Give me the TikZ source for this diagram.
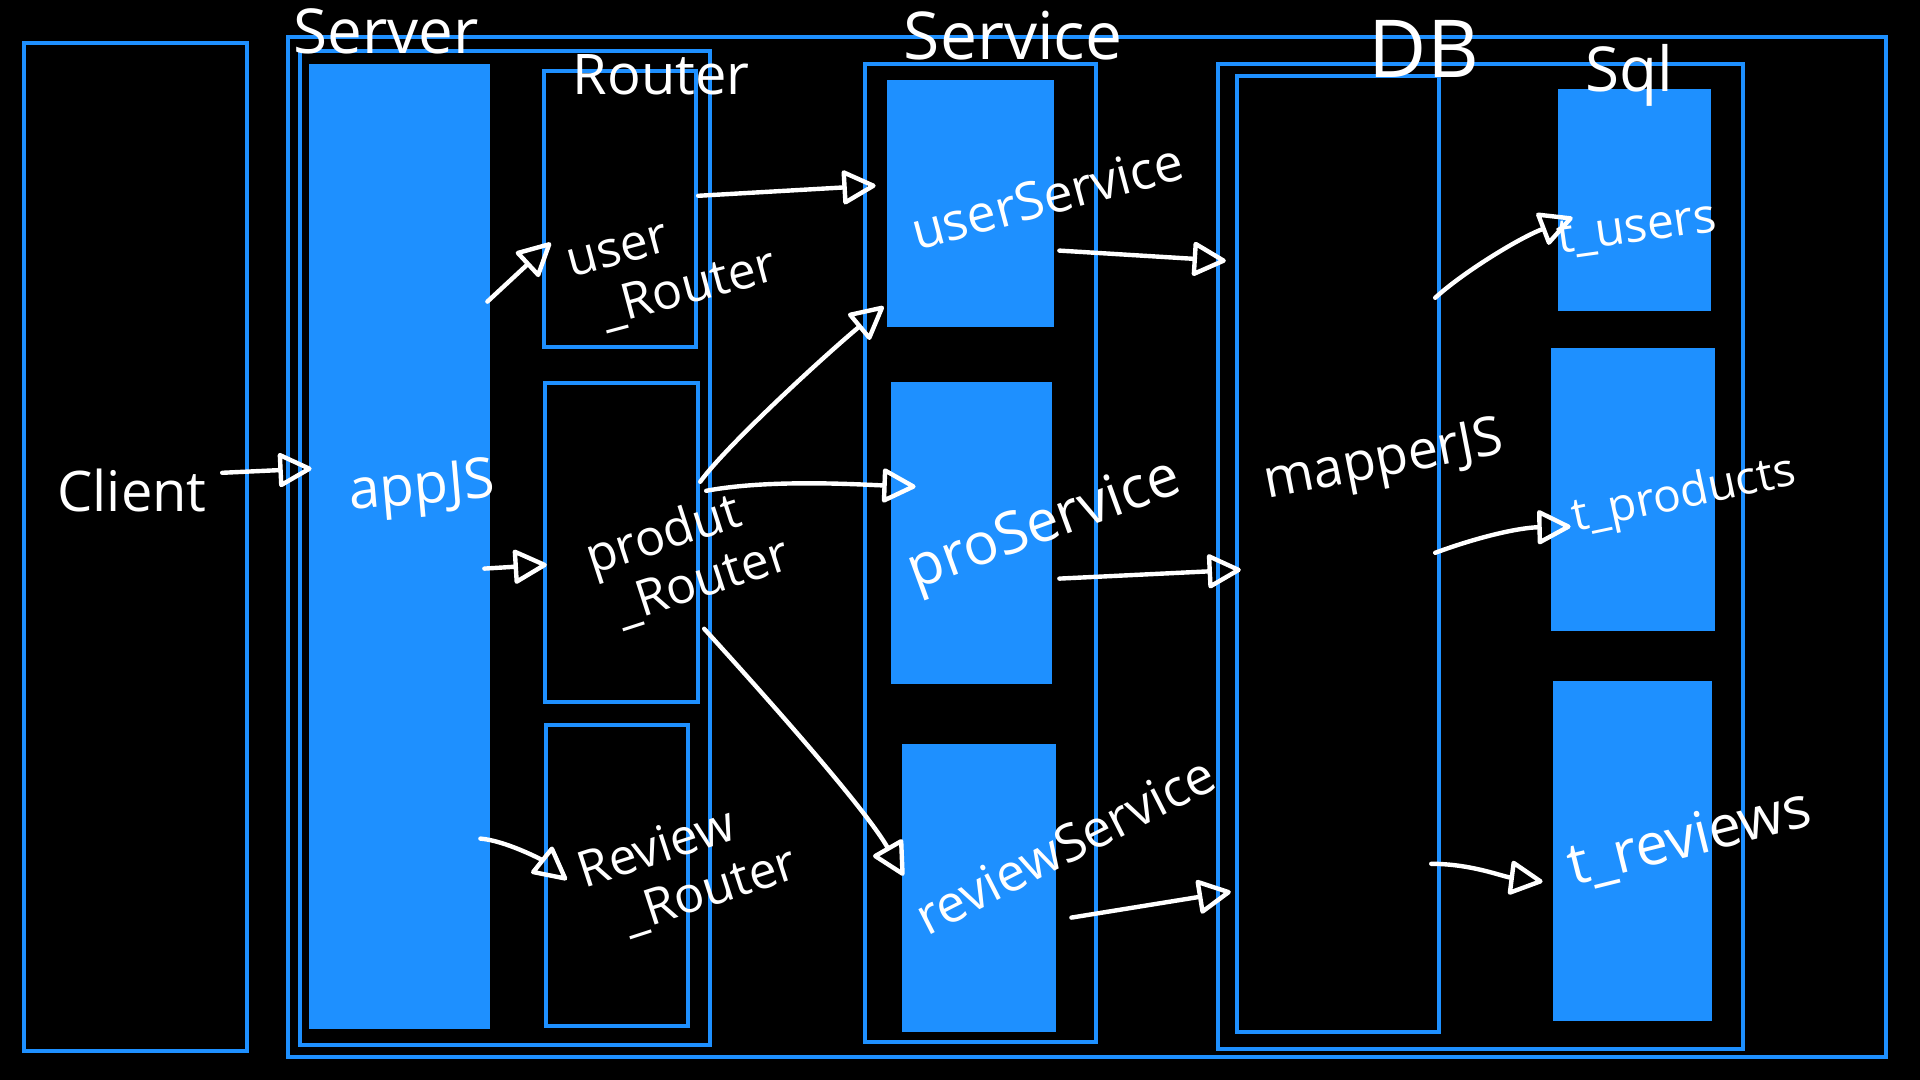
\documentclass[tikz,border=0pt]{standalone}
\usepackage{fontspec}
\setmainfont{Open Sans}
\usetikzlibrary{arrows.meta,fit,calc}
\definecolor{dblue}{HTML}{1E90FF}
\begin{document}
\begin{tikzpicture}[x=0.5pt,y=-0.5pt,
  frame/.style={draw=dblue, line width=2.2pt, inner sep=0pt},
  solidbox/.style={fill=dblue, inner sep=0pt},
  lab/.style={text=white, inner sep=0pt, align=left},
  conn/.style={draw=white, line width=2.2pt, line cap=round, line join=round,
    -{Triangle[open, length=18pt, width=18pt, line width=2.2pt, round]}}
]
\fill[black] (0,0) rectangle (1920,1080);
\useasboundingbox (0,0) rectangle (1920,1080);

% frames
\node[frame, fit={(24,43)(247,1051)}] (client) {};
\node[frame, fit={(288,37)(1886,1057)}] (outer) {};
\node[frame, fit={(300,51)(710,1045)}] (server) {};
\node[solidbox, fit={(309,64)(490,1029)}] (app) {};
\node[frame, fit={(544,71)(696,347)}] (userR) {};
\node[frame, fit={(545,383)(698,702)}] (prodR) {};
\node[frame, fit={(546,725)(688,1026)}] (revR) {};
\node[frame, fit={(865,64)(1096,1042)}] (service) {};
\node[solidbox, fit={(887,80)(1054,327)}] (userS) {};
\node[solidbox, fit={(891,382)(1052,684)}] (proS) {};
\node[solidbox, fit={(902,744)(1056,1032)}] (revS) {};
\node[frame, fit={(1218,64)(1743,1049)}] (db) {};
\node[frame, fit={(1237,76)(1439,1032)}] (mapper) {};
\node[solidbox, fit={(1558,89)(1711,311)}] (tusers) {};
\node[solidbox, fit={(1551,348)(1715,631)}] (tprod) {};
\node[solidbox, fit={(1553,681)(1712,1021)}] (trev) {};

% titles
\node[lab, font=\fontsize{31}{34}\selectfont] (tServer) at (386,31) {Server};
\node[lab, font=\fontsize{28}{31}\selectfont] (tRouter) at (661,75) {Router};
\node[lab, font=\fontsize{33}{36}\selectfont] (tService) at (1013,36) {Service};
\node[lab, font=\fontsize{40}{44}\selectfont] (tDB) at (1424,49) {DB};
\node[lab, font=\fontsize{31}{34}\selectfont] (tSql) at (1629,75) {Sql};

% labels
\node[lab, font=\fontsize{28}{31}\selectfont] (lClient) at (132,490) {Client};
\node[lab, font=\fontsize{28}{31}\selectfont, rotate=5] (lApp) at (422,490) {appJS};
\node[lab, font=\fontsize{25}{30}\selectfont, rotate=15] (lUserR) at (673,269) {user\\[-2pt]\hspace*{10pt}\_Router};
\node[lab, font=\fontsize{25}{30}\selectfont, rotate=18] (lProdR) at (688,557) {produt\\[-2pt]\hspace*{6pt}\_Router};
\node[lab, font=\fontsize{25}{30}\selectfont, rotate=18] (lRevR) at (688,869) {Review\\[-2pt]\hspace*{14pt}\_Router};
\node[lab, font=\fontsize{26}{29}\selectfont, rotate=15] (lUserS) at (1047,196) {userService};
\node[lab, font=\fontsize{29}{32}\selectfont, rotate=20] (lProS) at (1045,527) {proService};
\node[lab, font=\fontsize{26}{29}\selectfont, rotate=27] (lRevS) at (1065,845) {reviewService};
\node[lab, font=\fontsize{27}{30}\selectfont, rotate=11] (lMapper) at (1384,463) {mapperJS};
\node[lab, font=\fontsize{24}{27}\selectfont, rotate=8] (lTusers) at (1637,230) {t\_users};
\node[lab, font=\fontsize{23}{26}\selectfont, rotate=12] (lTprod) at (1684,496) {t\_products};
\node[lab, font=\fontsize{29}{32}\selectfont, rotate=14] (lTrev) at (1690,839) {t\_reviews};

% connectors
\draw[conn] ($(client.north east)+(-27,432)$) -- ($(app.north west)+(3,405)$);
\draw[conn] ($(app.north east)+(-3,238)$) -- ($(userR.north west)+(9,174)$);
\draw[conn] ($(app.north east)+(-6,505)$) -- ($(prodR.north west)+(4,184)$);
\draw[conn] ($(app.north east)+(-10,775)$) .. controls ($(app.north east)+(15,777)$) and ($(revR.north west)+(-2,137)$) .. ($(revR.north west)+(23,157)$);
\draw[conn] ($(userR.north east)+(0,127)$) -- ($(userS.north west)+(-11,106)$);
\draw[conn] ($(prodR.north east)+(0,101)$) .. controls ($(prodR.north east)+(25,66)$) and ($(userS.south west)+(-63,29)$) .. ($(userS.south west)+(-3,-21)$);
\draw[conn] ($(prodR.north east)+(6,110)$) .. controls ($(prodR.north east)+(70,98)$) and ($(proS.north west)+(-30,103)$) .. ($(proS.north west)+(25,105)$);
\draw[conn] ($(prodR.north east)+(4,248)$) .. controls ($(prodR.north east)+(54,303)$) and ($(revS.north west)+(-38,62)$) .. ($(revS.north west)+(2,132)$);
\draw[conn] ($(userS.north east)+(5,171)$) -- ($(mapper.north west)+(-9,187)$);
\draw[conn] ($(proS.north east)+(7,197)$) -- ($(mapper.north west)+(6,496)$);
\draw[conn] ($(revS.north east)+(15,174)$) -- ($(mapper.north west)+(-4,818)$);
\draw[conn] ($(mapper.north east)+(-6,224)$) .. controls ($(mapper.north east)+(20,200)$) and ($(tusers.north west)+(-40,150)$) .. ($(tusers.north west)+(15,129)$);
\draw[conn] ($(mapper.north east)+(-6,479)$) .. controls ($(mapper.north east)+(40,462)$) and ($(tprod.north west)+(-30,180)$) .. ($(tprod.north west)+(20,179)$);
\draw[conn] ($(mapper.north east)+(-10,790)$) .. controls ($(mapper.north east)+(30,790)$) and ($(trev.north west)+(-50,196)$) .. ($(trev.north west)+(-10,201)$);
\end{tikzpicture}
\end{document}
